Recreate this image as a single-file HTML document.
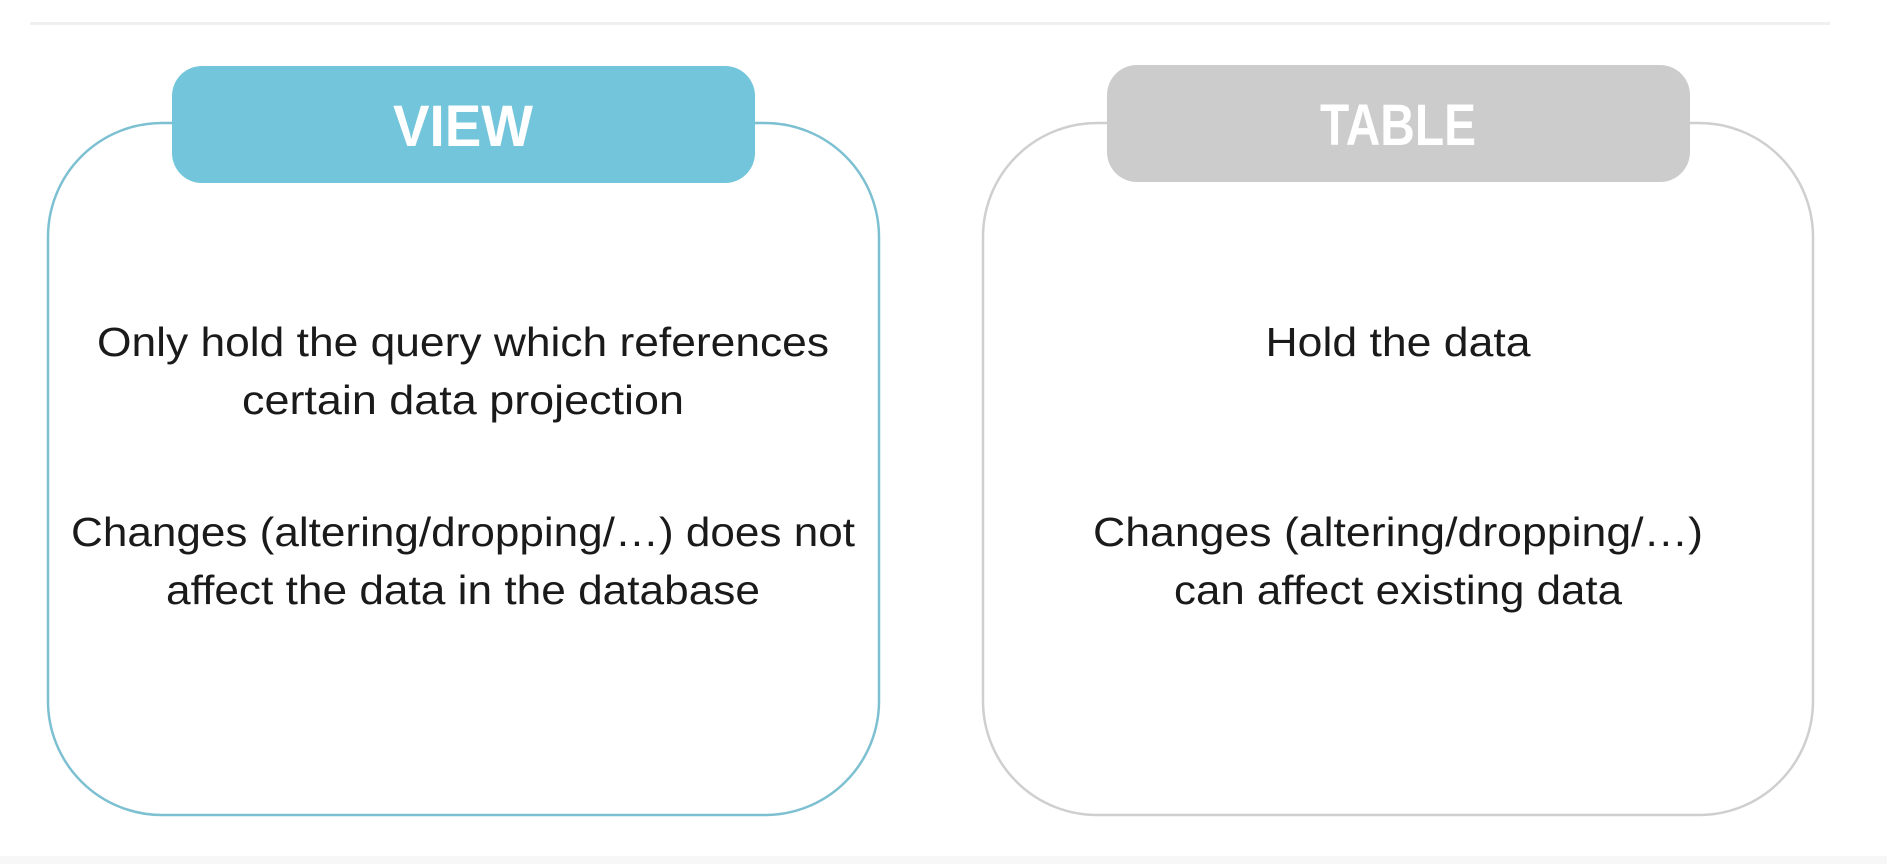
<!DOCTYPE html>
<html><head><meta charset="utf-8"><style>
html,body{margin:0;padding:0;background:#fff;width:1887px;height:864px;overflow:hidden}
svg text{font-family:"Liberation Sans",sans-serif}
</style></head><body>
<svg width="1887" height="864" viewBox="0 0 1887 864" xmlns="http://www.w3.org/2000/svg">
<rect x="0" y="0" width="1887" height="864" fill="#fff"/>
<rect x="30" y="22" width="1800" height="3" fill="#f0f0f0"/>
<rect x="0" y="856" width="1887" height="8" fill="#f7f7f7"/>
<rect x="48" y="123" width="831" height="692" rx="114" ry="114" fill="#fff" stroke="#7cc0d2" stroke-width="2.5"/>
<rect x="172" y="66" width="583" height="117" rx="30" ry="30" fill="#72c5da"/>
<text x="463" y="146" text-anchor="middle" font-size="58" font-weight="bold" fill="#fff" textLength="140" lengthAdjust="spacingAndGlyphs">VIEW</text>
<rect x="983" y="123" width="830" height="692" rx="114" ry="114" fill="#fff" stroke="#cfcfcf" stroke-width="2.5"/>
<rect x="1107" y="65" width="583" height="117" rx="30" ry="30" fill="#cccccc"/>
<text x="1398" y="145" text-anchor="middle" font-size="58" font-weight="bold" fill="#fff" textLength="156" lengthAdjust="spacingAndGlyphs">TABLE</text>
<g font-size="41" fill="#1a1a1a" text-anchor="middle">
<text x="463" y="356" textLength="732" lengthAdjust="spacingAndGlyphs">Only hold the query which references</text>
<text x="463" y="414" textLength="442" lengthAdjust="spacingAndGlyphs">certain data projection</text>
<text x="463" y="546" textLength="784" lengthAdjust="spacingAndGlyphs">Changes (altering/dropping/…) does not</text>
<text x="463" y="604" textLength="594" lengthAdjust="spacingAndGlyphs">affect the data in the database</text>
<text x="1398" y="356" textLength="265" lengthAdjust="spacingAndGlyphs">Hold the data</text>
<text x="1398" y="546" textLength="610" lengthAdjust="spacingAndGlyphs">Changes (altering/dropping/…)</text>
<text x="1398" y="604" textLength="448" lengthAdjust="spacingAndGlyphs">can affect existing data</text>
</g>
</svg>
</body></html>
